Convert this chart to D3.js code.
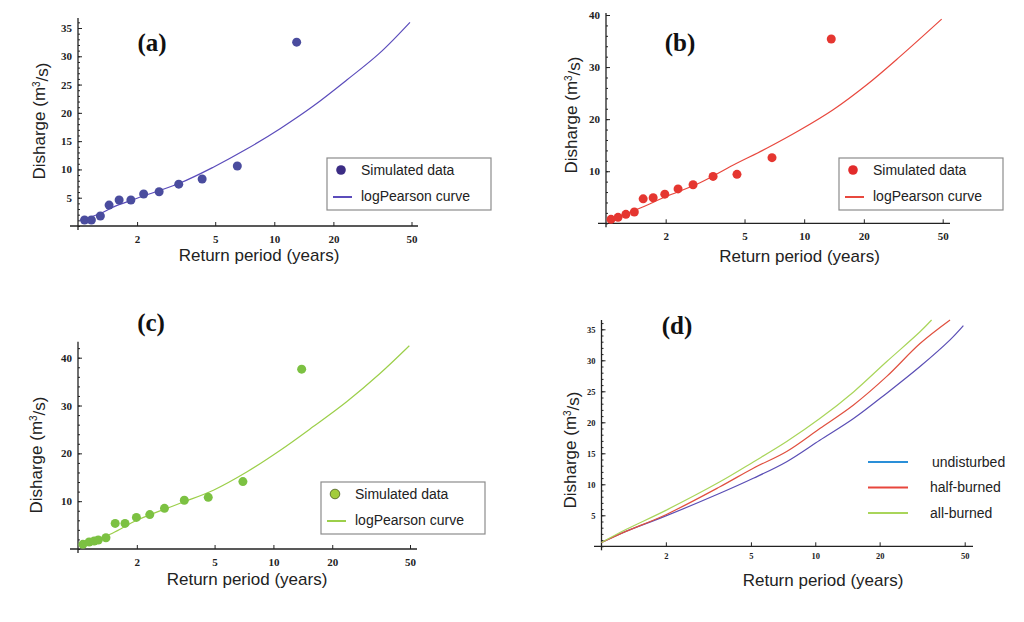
<!DOCTYPE html>
<html lang="en">
<head>
<meta charset="UTF-8">
<title>Return period vs discharge</title>
<script src="https://cdnjs.cloudflare.com/ajax/libs/d3/7.8.5/d3.min.js"></script>
<style>
    body { margin: 0; background: #fff; }
    .tick text { font-family: "Liberation Serif", serif; font-weight: bold; fill: #222; }
    .tick line { stroke: #222; }
    .axis-title { font-family: "Liberation Sans", Arial, sans-serif; font-size: 17px; fill: #222; }
    .panel-label { font-family: "Liberation Serif", serif; font-weight: bold; font-size: 25px; fill: #111; }
    .legend-text { font-family: "Liberation Sans", Arial, sans-serif; font-size: 14px; fill: #222; }
</style>
</head>
<body>
<div id="chart"></div>
<script>
// x ticks (return period, log scale)
const xTicks = [2, 5, 10, 20, 50];

// (a) undisturbed
const aPointT = [1.08, 1.17, 1.30, 1.44, 1.62, 1.86, 2.16, 2.59, 3.26, 4.29, 6.48, 13.0];
const aPointQ = [1.06, 1.06, 1.76, 3.7, 4.6, 4.6, 5.65, 6.06, 7.4, 8.3, 10.6, 32.5];
const aCurveT = [1.02, 1.3, 1.5, 2, 3.31, 4.89, 7.23, 10.7, 15.8, 23.4, 34.5, 49.1];
const aCurveQ = [1.0, 2.2, 3.3, 4.9, 7.6, 10.4, 13.6, 17.2, 21.2, 25.8, 30.6, 36.0];

// (b) half-burned
const bPointT = [1.06, 1.15, 1.26, 1.39, 1.54, 1.73, 1.98, 2.31, 2.75, 3.47, 4.58, 6.88, 13.7];
const bPointQ = [0.76, 1.15, 1.72, 2.17, 4.7, 4.9, 5.6, 6.6, 7.4, 9.0, 9.4, 12.6, 35.4];
const bCurveT = [1.02, 1.5, 2, 2.98, 4.39, 6.47, 9.52, 14.0, 20.7, 30.4, 49.4];
const bCurveQ = [0.4, 3.0, 5.1, 7.8, 11.2, 14.4, 17.9, 21.8, 26.6, 32.0, 39.2];

// (c) all-burned
const cPointT = [1.06, 1.14, 1.21, 1.27, 1.39, 1.55, 1.74, 1.99, 2.33, 2.77, 3.5, 4.64, 6.98, 13.95];
const cPointQ = [0.97, 1.46, 1.67, 1.88, 2.36, 5.35, 5.35, 6.6, 7.2, 8.5, 10.2, 10.8, 14.1, 37.6];
const cCurveT = [1.02, 1.5, 2, 3.33, 4.93, 7.3, 10.8, 16.0, 23.7, 35.1, 49.6];
const cCurveQ = [0.5, 3.3, 6.0, 9.56, 12.3, 16.1, 20.6, 25.6, 30.8, 36.7, 42.5];

// (d) comparison
const dUndT = [1.0, 1.3, 2, 3.58, 5.13, 7.35, 10.5, 15.1, 21.6, 30.9, 42.7, 49.3];
const dUndQ = [0.6, 2.4, 4.9, 8.55, 10.97, 13.65, 17.1, 20.6, 24.7, 29.0, 33.3, 35.6];
const dHalfT = [1.0, 1.3, 2, 3.58, 5.13, 7.35, 10.5, 15.1, 21.6, 30.9, 42.7];
const dHalfQ = [0.6, 2.4, 5.1, 9.6, 12.6, 15.3, 19.0, 22.8, 27.4, 32.7, 36.5];
const dAllT = [1.0, 1.3, 2, 3.58, 5.13, 7.35, 10.5, 15.1, 21.6, 30.9, 35.0];
const dAllQ = [0.6, 2.7, 5.8, 10.4, 13.6, 16.9, 20.6, 24.9, 29.8, 34.6, 36.5];
const dLegend = ["undisturbed", "half-burned", "all-burned"];

const svg = d3.select("#chart").append("svg")
    .attr("width", 1024)
    .attr("height", 622);

const zip = (t, q) => t.map((d, i) => ({t: d, q: q[i]}));

function drawPanel(p) {
    const g = svg.append("g");
    const x = d3.scaleLog().domain([1, 50]).range(p.xRange);
    const y = d3.scaleLinear().domain([0, p.yTop]).range(p.yRange);

    // axis lines (extend a little past the origin like the original)
    g.append("line")
        .attr("x1", p.xLine[0]).attr("x2", p.xLine[1])
        .attr("y1", y(0)).attr("y2", y(0))
        .attr("stroke", "#222").attr("stroke-width", 1.3);
    g.append("line")
        .attr("x1", x(1)).attr("x2", x(1))
        .attr("y1", y(0) + 4).attr("y2", p.yLineTop)
        .attr("stroke", "#222").attr("stroke-width", 1.3);

    // minor y ticks
    g.append("g")
        .attr("transform", `translate(${x(1)},0)`)
        .call(d3.axisLeft(y).tickValues(d3.range(0, p.yMaxMinor + 0.01, p.minorStep))
            .tickSizeInner(-2).tickSizeOuter(0).tickFormat(""))
        .call(s => s.select(".domain").remove());

    // major y ticks
    g.append("g")
        .attr("transform", `translate(${x(1)},0)`)
        .call(d3.axisLeft(y).tickValues(p.yTicks).tickSizeInner(-4).tickSizeOuter(0).tickPadding(6))
        .call(s => s.select(".domain").remove())
        .call(s => s.selectAll("text").style("font-size", p.tickFont + "px"));

    // x ticks
    g.append("g")
        .attr("transform", `translate(0,${y(0)})`)
        .call(d3.axisBottom(x).tickValues(xTicks).tickFormat(d3.format("d"))
            .tickSizeInner(-4).tickSizeOuter(0).tickPadding(p.xPad))
        .call(s => s.select(".domain").remove())
        .call(s => s.selectAll("text").style("font-size", p.tickFont + "px"));

    // axis titles
    g.append("text")
        .attr("class", "axis-title")
        .attr("x", p.xTitle[0]).attr("y", p.xTitle[1])
        .attr("text-anchor", "middle")
        .text("Return period (years)");

    const yt = g.append("text")
        .attr("class", "axis-title")
        .attr("transform", `translate(${p.yTitle[0]},${p.yTitle[1]}) rotate(-90)`)
        .attr("text-anchor", "middle")
        .attr("dy", "0.35em");
    yt.append("tspan").text("Disharge (m");
    yt.append("tspan").attr("dy", "-0.5em").style("font-size", "10px").text("3");
    yt.append("tspan").attr("dy", "0.5em").text("/s)");

    // panel label
    g.append("text")
        .attr("class", "panel-label")
        .attr("x", p.label[0]).attr("y", p.label[1])
        .attr("text-anchor", "middle")
        .attr("dy", "0.35em")
        .text(p.name);

    const line = d3.line()
        .x(d => x(d.t))
        .y(d => y(d.q))
        .curve(d3.curveCatmullRom.alpha(0.5));

    p.curves.forEach(c => {
        g.append("path")
            .datum(zip(c.t, c.q))
            .attr("fill", "none")
            .attr("stroke", c.color)
            .attr("stroke-width", 1.2)
            .attr("d", line);
    });

    if (p.points) {
        g.selectAll("circle.pt")
            .data(zip(p.points.t, p.points.q))
            .join("circle")
            .attr("class", "pt")
            .attr("cx", d => x(d.t))
            .attr("cy", d => y(d.q))
            .attr("r", 4.5)
            .attr("fill", p.points.color);
    }

    if (p.legendBox) {
        const [lx, ly] = p.legendBox;
        g.append("rect")
            .attr("x", lx).attr("y", ly)
            .attr("width", 164).attr("height", 52)
            .attr("fill", "#fff")
            .attr("stroke", "#8c8c8c").attr("stroke-width", 1.2);
        g.append("circle")
            .attr("cx", lx + 14).attr("cy", ly + 12).attr("r", 4.8)
            .attr("fill", p.legendDot)
            .attr("stroke", p.legendDotStroke || "none")
            .attr("stroke-width", 0.8);
        g.append("text").attr("class", "legend-text")
            .attr("x", lx + 34).attr("y", ly + 12).attr("dy", "0.35em")
            .text("Simulated data");
        g.append("line")
            .attr("x1", lx + 6).attr("x2", lx + 25)
            .attr("y1", ly + 39).attr("y2", ly + 39)
            .attr("stroke", p.curves[0].color).attr("stroke-width", 2);
        g.append("text").attr("class", "legend-text")
            .attr("x", lx + 34).attr("y", ly + 38).attr("dy", "0.35em")
            .text("logPearson curve");
    }
    return g;
}

drawPanel({
    name: "(a)", xRange: [78, 411.5], yRange: [226, 28], yTop: 35,
    xLine: [70, 418], yLineTop: 18, yTicks: [5, 10, 15, 20, 25, 30, 35],
    minorStep: 1, yMaxMinor: 36, tickFont: 11, xPad: 9,
    xTitle: [259, 261], yTitle: [39, 121], label: [152, 42],
    curves: [{t: aCurveT, q: aCurveQ, color: "#5b4cbb"}],
    points: {t: aPointT, q: aPointQ, color: "#4a4c9e"},
    legendBox: [327, 158], legendDot: "#3b2c84"
});

drawPanel({
    name: "(b)", xRange: [606, 942.7], yRange: [223.3, 15], yTop: 40,
    xLine: [598, 950], yLineTop: 13, yTicks: [10, 20, 30, 40],
    minorStep: 2, yMaxMinor: 40, tickFont: 11, xPad: 9,
    xTitle: [799.5, 262], yTitle: [571, 115], label: [680, 42],
    curves: [{t: bCurveT, q: bCurveQ, color: "#e8483e"}],
    points: {t: bPointT, q: bPointQ, color: "#e53630"},
    legendBox: [839, 158], legendDot: "#e22b2b"
});

drawPanel({
    name: "(c)", xRange: [78, 410], yRange: [549, 357.7], yTop: 40,
    xLine: [70, 417], yLineTop: 341.7, yTicks: [10, 20, 30, 40],
    minorStep: 2, yMaxMinor: 42, tickFont: 11, xPad: 9,
    xTitle: [247, 585], yTitle: [36, 455], label: [151, 322],
    curves: [{t: cCurveT, q: cCurveQ, color: "#9ccf4a"}],
    points: {t: cPointT, q: cPointQ, color: "#7cc142"},
    legendBox: [321, 482], legendDot: "#a2cc3c", legendDotStroke: "#4a5a20"
});

const dColors = ["#5a4eb5", "#e0503f", "#a9d55a"];
const dLegendColors = ["#2a8fd8", "#e8463c", "#a9d55a"];
const gd = drawPanel({
    name: "(d)", xRange: [601.5, 964.7], yRange: [546.3, 329.3], yTop: 35,
    xLine: [594, 973], yLineTop: 320, yTicks: [5, 10, 15, 20, 25, 30, 35],
    minorStep: 1, yMaxMinor: 36, tickFont: 8.5, xPad: 7,
    xTitle: [823, 586], yTitle: [570, 450], label: [677, 325],
    curves: [
        {t: dUndT, q: dUndQ, color: dColors[0]},
        {t: dHalfT, q: dHalfQ, color: dColors[1]},
        {t: dAllT, q: dAllQ, color: dColors[2]}
    ]
});

const dLegY = d3.scalePoint().domain(dLegend).range([462, 513]);
dLegend.forEach((name, i) => {
    gd.append("line")
        .attr("x1", 868).attr("x2", 908)
        .attr("y1", dLegY(name)).attr("y2", dLegY(name))
        .attr("stroke", dLegendColors[i]).attr("stroke-width", 2);
    gd.append("text").attr("class", "legend-text")
        .attr("x", i === 0 ? 932 : 930).attr("y", dLegY(name)).attr("dy", "0.35em")
        .text(name);
});
</script>
</body>
</html>
